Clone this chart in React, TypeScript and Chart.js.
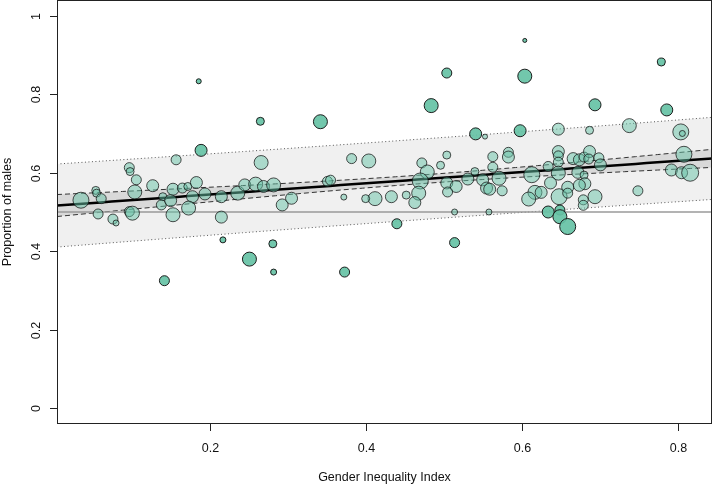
import { useEffect, useRef } from "react";
import { Chart, registerables } from "chart.js";

Chart.register(...registerables);

// Countries: Gender Inequality Index vs. proportion of males, bubble size ~ population
const giiValues = [
  0.034, 0.185, 0.188, 0.156, 0.096, 0.097, 0.105, 0.126, 0.053, 0.054,
  0.060, 0.103, 0.056, 0.075, 0.079, 0.096, 0.100, 0.139, 0.137, 0.149,
  0.152, 0.152, 0.164, 0.171, 0.182, 0.177, 0.172, 0.193, 0.214, 0.214,
  0.235, 0.141, 0.216,
  0.503, 0.483, 0.264, 0.341, 0.540, 0.552, 0.265, 0.381, 0.403, 0.503,
  0.495, 0.471, 0.478, 0.469, 0.467, 0.462, 0.451, 0.432, 0.411, 0.399,
  0.371, 0.350, 0.354, 0.244, 0.258, 0.268, 0.281, 0.292, 0.304, 0.503,
  0.515, 0.504, 0.530, 0.539, 0.513, 0.439, 0.280, 0.250, 0.281, 0.372,
  0.513,
  0.603, 0.603, 0.778, 0.693, 0.785, 0.597, 0.646, 0.686, 0.737, 0.803,
  0.805, 0.562, 0.582, 0.582, 0.562, 0.570, 0.549, 0.554, 0.558, 0.574,
  0.612, 0.633, 0.646, 0.646, 0.646, 0.646, 0.636, 0.616, 0.624, 0.608,
  0.647, 0.658, 0.658, 0.633, 0.648, 0.648, 0.658, 0.665, 0.673, 0.679,
  0.686, 0.685, 0.698, 0.700, 0.671, 0.679, 0.680, 0.673, 0.693, 0.678,
  0.678, 0.748, 0.791, 0.804, 0.815, 0.807, 0.557,
];

const maleShare = [
  0.530, 0.833, 0.657, 0.633, 0.613, 0.603, 0.582, 0.567, 0.555, 0.548,
  0.534, 0.551, 0.495, 0.482, 0.472, 0.501, 0.497, 0.539, 0.518, 0.529,
  0.558, 0.493, 0.561, 0.565, 0.575, 0.539, 0.510, 0.546, 0.539, 0.487,
  0.548, 0.325, 0.429,
  0.854, 0.771, 0.731, 0.730, 0.699, 0.692, 0.626, 0.636, 0.630, 0.645,
  0.619, 0.625, 0.602, 0.579, 0.548, 0.524, 0.543, 0.539, 0.534, 0.534,
  0.538, 0.578, 0.581, 0.569, 0.571, 0.565, 0.569, 0.518, 0.535, 0.574,
  0.565, 0.551, 0.584, 0.603, 0.500, 0.470, 0.419, 0.380, 0.347, 0.347,
  0.422,
  0.937, 0.846, 0.882, 0.773, 0.760, 0.707, 0.711, 0.708, 0.720, 0.704,
  0.700, 0.641, 0.652, 0.640, 0.614, 0.586, 0.582, 0.561, 0.558, 0.554,
  0.595, 0.616, 0.654, 0.643, 0.627, 0.599, 0.574, 0.550, 0.550, 0.533,
  0.539, 0.563, 0.548, 0.500, 0.505, 0.488, 0.463, 0.636, 0.633, 0.640,
  0.654, 0.635, 0.638, 0.620, 0.601, 0.594, 0.572, 0.568, 0.539, 0.531,
  0.517, 0.554, 0.607, 0.600, 0.600, 0.647, 0.500,
];

const bubbleRadius = [
  8, 2.5, 6, 5, 5, 4, 5, 6, 4, 4,
  5, 7, 5, 5, 3, 5, 7, 4, 5, 6,
  6, 7, 5, 4, 6, 6, 7, 6, 6, 6,
  7, 5, 3,
  5, 7, 4, 7, 6, 2.5, 7, 5, 7, 4,
  4, 5, 7, 8, 7, 6, 4, 6, 7, 4,
  3, 5, 5, 6, 7, 6, 7, 6, 6, 6,
  6, 5, 6, 4, 3, 5, 4, 7, 3, 5,
  5,
  2, 7, 4, 6, 6, 6, 6, 4, 7, 8,
  3, 5, 5, 6, 5, 7, 6, 6, 6, 5,
  8, 5, 6, 5, 5, 7, 6, 7, 6, 7,
  8, 6, 5, 6, 5, 7, 8, 6, 6, 5,
  6, 5, 5, 6, 6, 4, 6, 6, 7, 5,
  5, 5, 6, 6, 8.5, 8, 3,
];

const xTicks = [0.2, 0.4, 0.6, 0.8];
const xTickLabels = ["0.2", "0.4", "0.6", "0.8"];
const yTicks = [0, 0.2, 0.4, 0.6, 0.8, 1];
const yTickLabels = ["0", "0.2", "0.4", "0.6", "0.8", "1"];
const xTitle = "Gender Inequality Index";
const yTitle = "Proportion of males";
const xRange = [0.0033, 0.843];
const yRange = [-0.04, 1.04];

// Linear model: fitted line, standard error of the mean response, residual spread
const fitIntercept = 0.516;
const fitSlope = 0.143;
const meanGii = 0.474;
const seAtMean = 0.011;
const seSlope = 0.0547;
const residualSpread = 0.102;
const parityLevel = 0.5;

const fitAt = (x: number) => fitIntercept + fitSlope * x;
const confHalf = (x: number) =>
  Math.sqrt(seAtMean * seAtMean + seSlope * seSlope * (x - meanGii) * (x - meanGii));
const predHalf = (x: number) => {
  const c = confHalf(x);
  return Math.sqrt(residualSpread * residualSpread + c * c);
};

const FONT = '12.5px "Liberation Sans", Arial, Helvetica, sans-serif';

const axesPlugin = {
  id: "baseAxes",
  afterDraw(chart: any) {
    const { ctx, chartArea: a, scales } = chart;
    const xs = scales.x;
    const ys = scales.y;
    ctx.save();
    ctx.strokeStyle = "#222";
    ctx.lineWidth = 1;
    ctx.setLineDash([]);
    ctx.strokeRect(a.left + 0.5, a.top + 0.5, a.right - a.left - 1, a.bottom - a.top - 1);

    ctx.fillStyle = "#111";
    ctx.font = FONT;
    ctx.textAlign = "center";
    ctx.textBaseline = "alphabetic";

    xTicks.forEach((v, i) => {
      const px = Math.round(xs.getPixelForValue(v)) + 0.5;
      ctx.beginPath();
      ctx.moveTo(px, a.bottom);
      ctx.lineTo(px, a.bottom + 7);
      ctx.stroke();
      ctx.fillText(xTickLabels[i], px, a.bottom + 27.5);
    });

    yTicks.forEach((v, i) => {
      const py = Math.round(ys.getPixelForValue(v)) + 0.5;
      ctx.beginPath();
      ctx.moveTo(a.left - 7, py);
      ctx.lineTo(a.left, py);
      ctx.stroke();
      ctx.save();
      ctx.translate(a.left - 17.5, py);
      ctx.rotate(-Math.PI / 2);
      ctx.fillText(yTickLabels[i], 0, 0);
      ctx.restore();
    });

    ctx.fillText(xTitle, (a.left + a.right) / 2, a.bottom + 56.5);

    ctx.save();
    ctx.translate(11, (a.top + a.bottom) / 2);
    ctx.rotate(-Math.PI / 2);
    ctx.fillText(yTitle, 0, 0);
    ctx.restore();

    ctx.restore();
  },
};

export default function App() {
  const canvasRef = useRef<HTMLCanvasElement | null>(null);

  useEffect(() => {
    if (!canvasRef.current) return;

    const steps = 60;
    const grid = Array.from(
      { length: steps + 1 },
      (_, i) => xRange[0] + ((xRange[1] - xRange[0]) * i) / steps
    );
    const curve = (f: (x: number) => number) => grid.map((x) => ({ x, y: f(x) }));

    const points = giiValues.map((x, i) => ({ x, y: maleShare[i], r: bubbleRadius[i] }));
    const isOutside = (p: any) => Math.abs(p.y - fitAt(p.x)) > predHalf(p.x);

    const lineBase = {
      type: "line" as const,
      pointRadius: 0,
      pointHoverRadius: 0,
      tension: 0,
    };

    const chart = new Chart(canvasRef.current, {
      type: "bubble",
      data: {
        datasets: [
          {
            ...lineBase,
            label: "prediction upper",
            data: curve((x) => fitAt(x) + predHalf(x)),
            borderColor: "#555",
            borderWidth: 1,
            borderDash: [1, 2.5],
            backgroundColor: "#f0f0f0",
            fill: "+1",
            order: 10,
          },
          {
            ...lineBase,
            label: "prediction lower",
            data: curve((x) => fitAt(x) - predHalf(x)),
            borderColor: "#555",
            borderWidth: 1,
            borderDash: [1, 2.5],
            fill: false,
            order: 9,
          },
          {
            ...lineBase,
            label: "confidence upper",
            data: curve((x) => fitAt(x) + confHalf(x)),
            borderColor: "#333",
            borderWidth: 1,
            borderDash: [5, 3],
            backgroundColor: "#d9d9d9",
            fill: "+1",
            order: 8,
          },
          {
            ...lineBase,
            label: "confidence lower",
            data: curve((x) => fitAt(x) - confHalf(x)),
            borderColor: "#333",
            borderWidth: 1,
            borderDash: [5, 3],
            fill: false,
            order: 7,
          },
          {
            ...lineBase,
            label: "parity",
            data: [
              { x: xRange[0], y: parityLevel },
              { x: xRange[1], y: parityLevel },
            ],
            borderColor: "#9a9a9a",
            borderWidth: 1.5,
            fill: false,
            order: 6,
          },
          {
            ...lineBase,
            label: "fit",
            data: curve(fitAt),
            borderColor: "#000",
            borderWidth: 2.5,
            fill: false,
            order: 5,
          },
          {
            label: "countries",
            data: points,
            backgroundColor: (c: any) =>
              c.raw && isOutside(c.raw) ? "rgba(102,194,165,0.92)" : "rgba(102,194,165,0.5)",
            borderColor: (c: any) =>
              c.raw && isOutside(c.raw) ? "rgba(20,20,20,0.95)" : "rgba(20,20,20,0.75)",
            borderWidth: 1,
            order: 0,
          } as any,
        ],
      },
      options: {
        animation: false,
        responsive: false,
        devicePixelRatio: 1,
        events: [],
        layout: { autoPadding: false, padding: { top: 0, right: 2, left: 0, bottom: 0 } },
        plugins: {
          legend: { display: false },
          tooltip: { enabled: false },
        },
        scales: {
          x: {
            type: "linear",
            min: xRange[0],
            max: xRange[1],
            grid: { display: false },
            border: { display: false },
            ticks: { display: false },
            afterFit: (s: any) => {
              s.height = 60;
            },
          },
          y: {
            type: "linear",
            min: yRange[0],
            max: yRange[1],
            grid: { display: false },
            border: { display: false },
            ticks: { display: false },
            afterFit: (s: any) => {
              s.width = 57;
            },
          },
        },
      } as any,
      plugins: [axesPlugin],
    });

    return () => chart.destroy();
  }, []);

  return (
    <div style={{ position: "absolute", left: 0, top: 0, width: 714, height: 484, background: "#fff" }}>
      <canvas ref={canvasRef} width={714} height={484} style={{ display: "block" }} />
    </div>
  );
}
